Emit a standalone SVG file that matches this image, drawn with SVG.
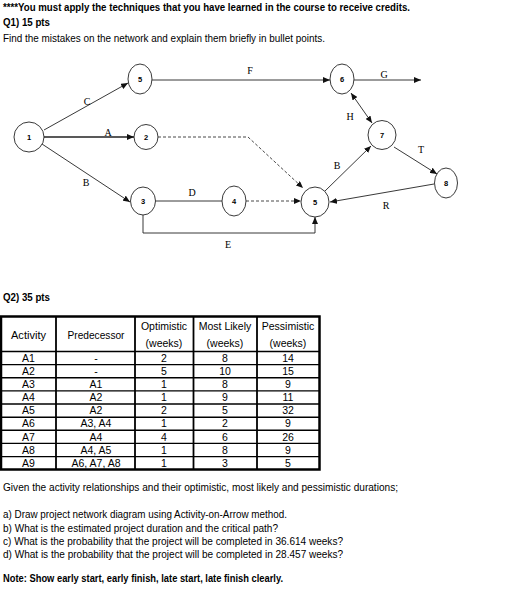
<svg xmlns="http://www.w3.org/2000/svg" width="513" height="596" viewBox="0 0 513 596">
<style>
.t{font-family:"Liberation Sans",Arial,sans-serif;font-size:10.5px;fill:#000}
.b{font-weight:bold}
.c{text-anchor:middle}
.lab{font-family:"Liberation Serif","Times New Roman",serif;font-size:10px;fill:#000;text-anchor:middle}
.num{font-family:"Liberation Sans",Arial,sans-serif;font-size:7.5px;font-weight:bold;fill:#000;text-anchor:middle}
.node{fill:#fff;stroke:#222;stroke-width:0.9}
.e{fill:none;stroke:#222;stroke-width:0.9}
.d{fill:none;stroke:#333;stroke-width:0.9;stroke-dasharray:3,2}
.tb{fill:none;stroke:#000}
</style>
<defs>
<marker id="ah" markerUnits="userSpaceOnUse" markerWidth="8" markerHeight="6" refX="7" refY="3" orient="auto-start-reverse">
<path d="M0,0 L7,3 L0,6 z" fill="#111"/>
</marker>
</defs>

<text class="t b" x="3" y="11" textLength="407" lengthAdjust="spacingAndGlyphs">****You must apply the techniques that you have learned in the course to receive credits.</text>
<text class="t b" x="3" y="26" textLength="47" lengthAdjust="spacingAndGlyphs">Q1) 15 pts</text>
<text class="t" x="3" y="42" textLength="322" lengthAdjust="spacingAndGlyphs">Find the mistakes on the network and explain them briefly in bullet points.</text>

<g id="connectors">
<path id="eC" class="e" d="M44,130 L128,83" marker-end="url(#ah)"/>
<path id="eA" class="e" style="stroke-width:1.3" d="M44,137 L134,137" marker-end="url(#ah)"/>
<path id="eB1" class="e" d="M42,144 L130,202" marker-end="url(#ah)"/>
<path id="eDummy1" class="d" d="M158,137 L248,137 L303,188" marker-end="url(#ah)"/>
<path id="eD" class="e" d="M155.5,201 L222,201"/>
<path id="eDummy2" class="d" d="M246,201 L301,201" marker-end="url(#ah)"/>
<path id="eE" class="e" d="M143,215 L143,233 L315,233 L315,217" marker-end="url(#ah)"/>
<path id="eF" class="e" d="M152,80 L330,80" marker-end="url(#ah)"/>
<path id="eG" class="e" d="M354,80 L421,80" marker-end="url(#ah)"/>
<path id="eH" class="e" d="M351,93 L372,123" marker-start="url(#ah)" marker-end="url(#ah)"/>
<path id="eB2" class="e" d="M325,191 L371,146" marker-end="url(#ah)"/>
<path id="eT" class="e" d="M394,147 L437,174" marker-end="url(#ah)"/>
<path id="eR" class="e" d="M434,184 L330,202" marker-end="url(#ah)"/>
<text class="lab" x="87" y="105">C</text>
<text class="lab" x="108" y="136">A</text>
<text class="lab" x="86" y="186">B</text>
<text class="lab" x="192" y="196">D</text>
<text class="lab" x="228" y="248">E</text>
<text class="lab" x="250" y="74">F</text>
<text class="lab" x="384" y="78">G</text>
<text class="lab" x="350" y="120">H</text>
<text class="lab" x="337" y="169">B</text>
<text class="lab" x="421" y="153">T</text>
<text class="lab" x="386" y="209">R</text>
</g>

<g id="node1"><ellipse class="node" cx="29" cy="137" rx="15" ry="15"/><text class="num" x="29" y="139.7">1</text></g>
<g id="node5top"><ellipse class="node" cx="140" cy="79" rx="12" ry="15"/><text class="num" x="140" y="81.7">5</text></g>
<g id="node2"><ellipse class="node" cx="146" cy="137" rx="12" ry="12.5"/><text class="num" x="146" y="139.7">2</text></g>
<g id="node3"><ellipse class="node" cx="143" cy="201" rx="12.5" ry="14"/><text class="num" x="143" y="203.7">3</text></g>
<g id="node4"><ellipse class="node" cx="234" cy="201" rx="12" ry="15"/><text class="num" x="234" y="203.7">4</text></g>
<g id="node6"><ellipse class="node" cx="342" cy="79" rx="12" ry="15"/><text class="num" x="342" y="81.7">6</text></g>
<g id="node7"><ellipse class="node" cx="382" cy="135" rx="14" ry="14.5"/><text class="num" x="382" y="137.7">7</text></g>
<g id="node8"><ellipse class="node" cx="446" cy="183" rx="11.5" ry="15"/><text class="num" x="446" y="185.7">8</text></g>
<g id="node5bottom"><ellipse class="node" cx="315" cy="202" rx="14" ry="15"/><text class="num" x="315" y="204.7">5</text></g>

<text class="t b" x="3" y="301" textLength="47" lengthAdjust="spacingAndGlyphs">Q2) 35 pts</text>

<g id="table">
<rect class="tb" x="1" y="316.5" width="318.5" height="153" style="stroke-width:2.5"/>
<g class="tb" style="stroke-width:1.8">
<line x1="56" y1="316" x2="56" y2="470"/>
<line x1="135" y1="316" x2="135" y2="470"/>
<line x1="193.5" y1="316" x2="193.5" y2="470"/>
<line x1="257" y1="316" x2="257" y2="470"/>
</g>
<g class="tb" style="stroke-width:1.4">
<line x1="1" y1="351.5" x2="319.5" y2="351.5"/>
<line x1="1" y1="364.6" x2="319.5" y2="364.6"/>
<line x1="1" y1="377.8" x2="319.5" y2="377.8"/>
<line x1="1" y1="390.9" x2="319.5" y2="390.9"/>
<line x1="1" y1="404" x2="319.5" y2="404"/>
<line x1="1" y1="417.2" x2="319.5" y2="417.2"/>
<line x1="1" y1="430.3" x2="319.5" y2="430.3"/>
<line x1="1" y1="443.4" x2="319.5" y2="443.4"/>
<line x1="1" y1="456.6" x2="319.5" y2="456.6"/>
</g>
<g class="t c">
<text x="28.5" y="339" textLength="35" lengthAdjust="spacingAndGlyphs">Activity</text>
<text x="96" y="339" textLength="57" lengthAdjust="spacingAndGlyphs">Predecessor</text>
<text x="164" y="330">Optimistic</text>
<text x="164" y="347">(weeks)</text>
<text x="225" y="330">Most Likely</text>
<text x="225" y="347">(weeks)</text>
<text x="288" y="330">Pessimistic</text>
<text x="288" y="347">(weeks)</text>
</g>
<g class="t c">
<text x="28.5" y="361.7">A1</text><text x="96" y="361.7">-</text><text x="164" y="361.7">2</text><text x="225" y="361.7">8</text><text x="288" y="361.7">14</text>
<text x="28.5" y="374.8">A2</text><text x="96" y="374.8">-</text><text x="164" y="374.8">5</text><text x="225" y="374.8">10</text><text x="288" y="374.8">15</text>
<text x="28.5" y="388">A3</text><text x="96" y="388">A1</text><text x="164" y="388">1</text><text x="225" y="388">8</text><text x="288" y="388">9</text>
<text x="28.5" y="401.1">A4</text><text x="96" y="401.1">A2</text><text x="164" y="401.1">1</text><text x="225" y="401.1">9</text><text x="288" y="401.1">11</text>
<text x="28.5" y="414.2">A5</text><text x="96" y="414.2">A2</text><text x="164" y="414.2">2</text><text x="225" y="414.2">5</text><text x="288" y="414.2">32</text>
<text x="28.5" y="427.4">A6</text><text x="96" y="427.4">A3, A4</text><text x="164" y="427.4">1</text><text x="225" y="427.4">2</text><text x="288" y="427.4">9</text>
<text x="28.5" y="440.5">A7</text><text x="96" y="440.5">A4</text><text x="164" y="440.5">4</text><text x="225" y="440.5">6</text><text x="288" y="440.5">26</text>
<text x="28.5" y="453.6">A8</text><text x="96" y="453.6">A4, A5</text><text x="164" y="453.6">1</text><text x="225" y="453.6">8</text><text x="288" y="453.6">9</text>
<text x="28.5" y="466.6">A9</text><text x="96" y="466.6">A6, A7, A8</text><text x="164" y="466.6">1</text><text x="225" y="466.6">3</text><text x="288" y="466.6">5</text>
</g>
</g>

<text class="t" x="3" y="491" textLength="395" lengthAdjust="spacingAndGlyphs">Given the activity relationships and their optimistic, most likely and pessimistic durations;</text>
<text class="t" x="3" y="518" textLength="284" lengthAdjust="spacingAndGlyphs">a) Draw project network diagram using Activity-on-Arrow method.</text>
<text class="t" x="3" y="532" textLength="275" lengthAdjust="spacingAndGlyphs">b) What is the estimated project duration and the critical path?</text>
<text class="t" x="3" y="545" textLength="340" lengthAdjust="spacingAndGlyphs">c) What is the probability that the project will be completed in 36.614 weeks?</text>
<text class="t" x="3" y="558" textLength="340" lengthAdjust="spacingAndGlyphs">d) What is the probability that the project will be completed in 28.457 weeks?</text>
<text class="t b" x="3" y="582" textLength="280" lengthAdjust="spacingAndGlyphs">Note: Show early start, early finish, late start, late finish clearly.</text>
</svg>
